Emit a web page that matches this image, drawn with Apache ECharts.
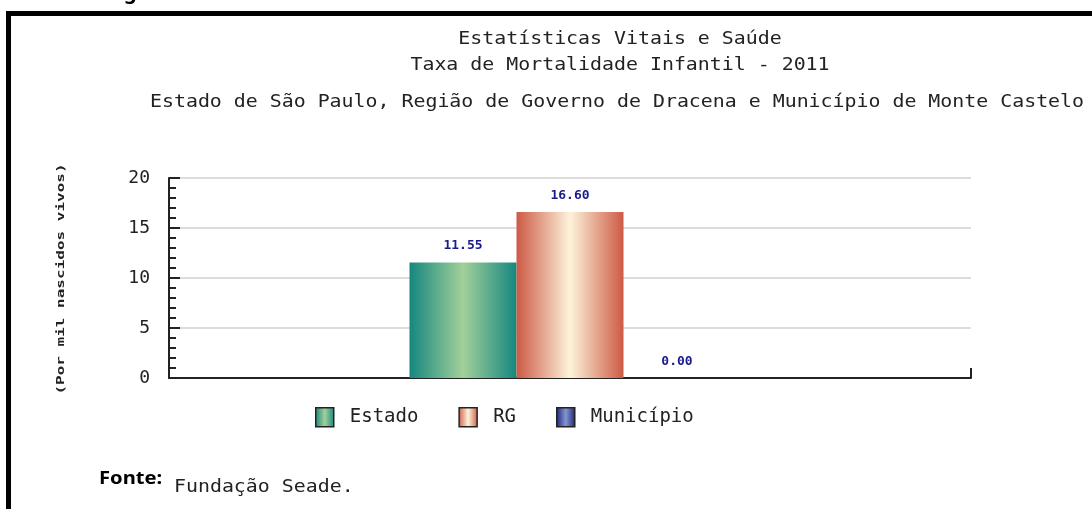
<!DOCTYPE html>
<html>
<head>
<meta charset="utf-8">
<script src="https://cdn.jsdelivr.net/npm/echarts@6/dist/echarts.min.js"></script>
<style>
  html, body { margin: 0; padding: 0; background: #fff; }
  #chart { width: 1092px; height: 509px; }
</style>
</head>
<body>
<div id="chart"></div>
<script>
  // dados
  var categorias = ['2011'];
  var nomesSeries = ['Estado', 'RG', 'Município'];
  var valEstado = [11.55];
  var valRG = [16.60];
  var valMunicipio = [0.00];
  var yTicks = { min: 0, max: 20, interval: 5 };

  var mono = 'DejaVu Sans Mono';

  function grad(edge, mid) {
    return new echarts.graphic.LinearGradient(0, 0, 1, 0, [
      { offset: 0, color: edge },
      { offset: 0.5, color: mid },
      { offset: 1, color: edge }
    ]);
  }

  var cores = {
    'Estado': grad('#15877f', '#a2d09a'),
    'RG': grad('#cd5a45', '#fdf3da'),
    'Município': grad('#1c2378', '#8595d0')
  };

  var rotulo = {
    show: true,
    position: 'top',
    distance: 10,
    color: '#1a1a8c',
    fontFamily: mono,
    fontWeight: 'bold',
    fontSize: 13,
    formatter: function (p) { return p.value.toFixed(2); }
  };

  function serie(nome, dados) {
    return {
      name: nome,
      type: 'bar',
      data: dados,
      barWidth: 107,
      barGap: 0,
      itemStyle: { color: cores[nome] },
      label: rotulo
    };
  }

  var myChart = echarts.init(document.getElementById('chart'));
  myChart.setOption({
    animation: false,
    backgroundColor: '#fff',
    grid: { left: 169, right: 121, top: 178, bottom: 131 },
    legend: {
      data: nomesSeries,
      left: 310,
      top: 402,
      icon: 'rect',
      itemWidth: 18,
      itemHeight: 19,
      itemGap: 40,
      itemStyle: { borderColor: '#222', borderWidth: 1.5 },
      textStyle: { fontFamily: mono, fontSize: 19, color: '#222', padding: [0, 0, 0, 11] }
    },
    xAxis: {
      type: 'category',
      data: categorias,
      axisLine: { lineStyle: { color: '#222', width: 2 } },
      axisTick: { show: true, inside: true, length: 10, lineStyle: { color: '#222', width: 2 } },
      axisLabel: { show: false }
    },
    yAxis: {
      type: 'value',
      min: yTicks.min,
      max: yTicks.max,
      interval: yTicks.interval,
      axisLine: { show: true, lineStyle: { color: '#222', width: 2 } },
      axisTick: { show: true, inside: true, length: 11, lineStyle: { color: '#222', width: 2 } },
      minorTick: { show: true, splitNumber: 5, length: 7, lineStyle: { color: '#222', width: 2 } },
      axisLabel: { color: '#222', fontFamily: mono, fontSize: 18, margin: 19 },
      splitLine: { show: true, lineStyle: { color: '#dcdcdc', width: 2 } }
    },
    series: [
      serie('Estado', valEstado),
      serie('RG', valRG),
      serie('Município', valMunicipio)
    ],
    graphic: [
      { type: 'rect', silent: true, shape: { x: 8.5, y: 13.5, width: 1200, height: 600 },
        style: { fill: 'none', stroke: '#000', lineWidth: 5 } },
      { type: 'text', x: 124, y: -17, style: { text: 'g', font: 'bold 20px Noto Sans', fill: '#000' } },
      { type: 'text', x: 620, y: 40, scaleX: 1.17,
        style: { text: 'Estatísticas Vitais e Saúde', font: '17px ' + mono, fill: '#222', align: 'center', verticalAlign: 'middle' } },
      { type: 'text', x: 620, y: 66, scaleX: 1.17,
        style: { text: 'Taxa de Mortalidade Infantil - 2011', font: '17px ' + mono, fill: '#222', align: 'center', verticalAlign: 'middle' } },
      { type: 'text', x: 150, y: 103, scaleX: 1.17,
        style: { text: 'Estado de São Paulo, Região de Governo de Dracena e Município de Monte Castelo', font: '17px ' + mono, fill: '#222', align: 'left', verticalAlign: 'middle' } },
      { type: 'text', x: 61, y: 279, rotation: Math.PI / 2, scaleX: 1.6,
        style: { text: '(Por mil nascidos vivos)', font: 'bold 10px ' + mono, fill: '#222', align: 'center', verticalAlign: 'middle' } },
      { type: 'text', x: 99, y: 479, scaleX: 1.12,
        style: { text: 'Fonte:', font: 'bold 18px Noto Sans', fill: '#000', align: 'left', verticalAlign: 'middle' } },
      { type: 'text', x: 174, y: 488, scaleX: 1.17,
        style: { text: 'Fundação Seade.', font: '17px ' + mono, fill: '#222', align: 'left', verticalAlign: 'middle' } }
    ]
  });
</script>
</body>
</html>
